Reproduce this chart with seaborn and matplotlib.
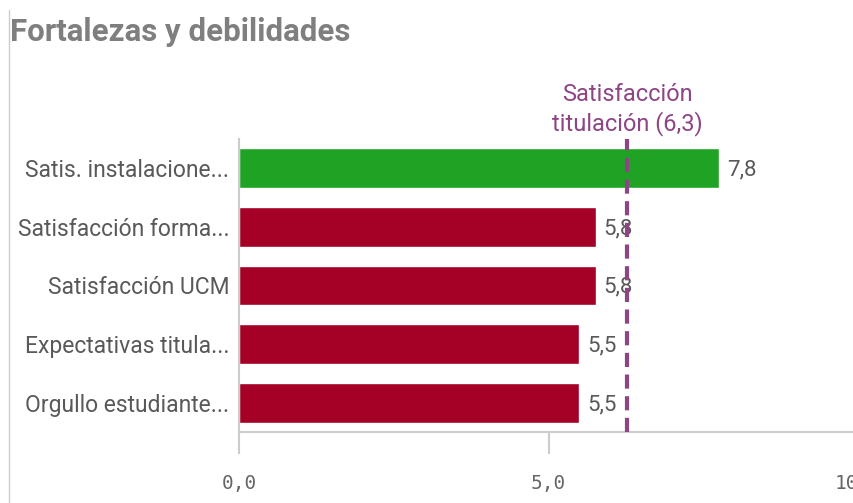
import pandas as pd
import matplotlib.pyplot as plt
import seaborn as sns
from matplotlib.lines import Line2D

# data
categories = ["Satis. instalacione...", "Satisfacción forma...", "Satisfacción UCM",
              "Expectativas titula...", "Orgullo estudiante..."]
values = [7.76, 5.76, 5.76, 5.5, 5.5]
bar_colors = ["#20a325", "#a50026", "#a50026", "#a50026", "#a50026"]
ref_value = 6.27
ref_name = "Satisfacción\ntitulación"
x_ticks = [0, 5, 10]

df = pd.DataFrame({"cat": categories, "val": values})

sns.set_style("white")
plt.rcParams["font.family"] = ["Roboto", "DejaVu Sans"]

fig = plt.figure(figsize=(8.54, 5.03), dpi=100)
ax = fig.add_axes([239 / 854, 1 - 432 / 503, 619 / 854, 293 / 503])

sns.barplot(data=df, x="val", y="cat", hue="cat", palette=dict(zip(categories, bar_colors)),
            legend=False, width=0.68, ax=ax, saturation=1)

ax.set_xlim(0, 10)
ax.set_ylim(4.5, -0.5)
ax.set_xlabel("")
ax.set_ylabel("")

for i, v in enumerate(values):
    ax.text(v + 0.13, i + 0.03, f"{v:.1f}".replace(".", ","), va="center", ha="left",
            fontsize=16, color="#595959")

ax.axvline(ref_value, color="#8e4585", lw=3, ls=(0, (3.4, 1.8)), zorder=5)
ax.text(ref_value, -0.55, f"{ref_name} ({ref_value:.1f})".replace(".", ","),
        ha="center", va="bottom", fontsize=17, color="#8e4585", linespacing=1.25)

ax.set_xticks(x_ticks)
ax.set_xticklabels([f"{t:.1f}".replace(".", ",") for t in x_ticks],
                   family="DejaVu Sans Mono", fontsize=14, color="#666666")
ax.tick_params(axis="x", length=16, width=1.5, color="#cccccc", pad=14, bottom=True)
ax.tick_params(axis="y", length=0, pad=7, labelsize=16.5, labelcolor="#595959")

sns.despine(ax=ax, top=True, right=True)
for s in ["left", "bottom"]:
    ax.spines[s].set_color("#cccccc")
    ax.spines[s].set_linewidth(1.5)

fig.text(10 / 854, 1 - 41 / 503, "Fortalezas y debilidades", fontsize=22.5, fontweight="bold",
         color="#7f7f7f", ha="left", va="baseline")
fig.add_artist(Line2D([9.5 / 854, 9.5 / 854], [0, 1 - 10 / 503], transform=fig.transFigure,
                      color="#cccccc", lw=1))

plt.savefig("out.png", dpi=100)
plt.close()
